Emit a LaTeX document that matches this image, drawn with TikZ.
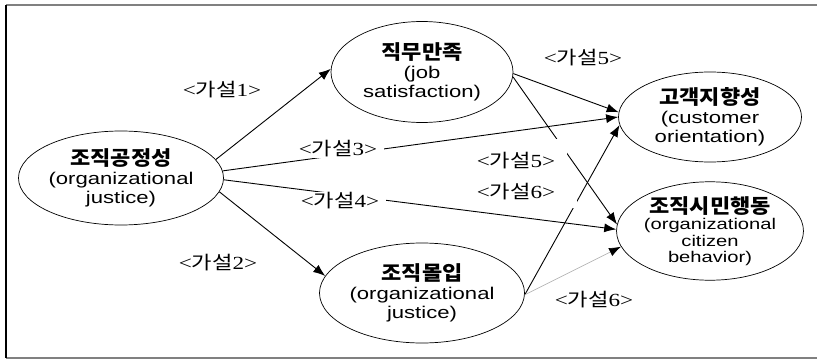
\documentclass[tikz,border=0pt]{standalone}
\usepackage{fontspec}
\usepackage{tikz}
\usetikzlibrary{shapes,calc,arrows,arrows.meta,positioning}
\newfontfamily\krfont[FakeStretch=1.1]{Noto Sans CJK KR}
\newfontfamily\krlab[FakeStretch=1.2]{Noto Sans CJK KR}
\newfontfamily\engfont[FakeStretch=1.3]{Liberation Sans}
\newfontfamily\labfont[FakeStretch=1.25]{Liberation Serif}
\tikzstyle{construct} = [draw, ellipse, fill=white, line width=0.7pt, inner sep=0pt, align=center, font=\engfont\fontsize{17}{19}\selectfont]
\tikzstyle{hyparrow} = [draw, -{Latex[length=12pt,width=9pt]}, line width=0.9pt]
\tikzstyle{hyp} = [fill=white, inner xsep=7pt, inner ysep=1pt, font=\fontsize{18.5}{19}\selectfont]
\newcommand{\cname}[1]{{\krfont\bfseries\fontsize{20}{20}\selectfont #1}}
\newcommand{\gs}[1]{{\labfont<{\krlab 가설}#1>}}

\begin{document}
\begin{tikzpicture}[x=1pt,y=-1pt]
    \useasboundingbox (0,0) rectangle (817,361);
    % frame
    \draw[gray, line width=1.6pt] (6,5) -- (817,5);
    \draw[gray, line width=1.6pt] (6,358) -- (817,358);
    \draw[black, line width=1.4pt] (6,5) -- (6,358);
    % constructs
    \node[construct, minimum width=184pt, minimum height=94pt] (justice) at (121,178) {\cname{조직공정성}\\(organizational\\justice)};
    \node[construct, minimum width=182pt, minimum height=101pt] (jobsat) at (422,72) {\cname{직무만족}\\(job\\satisfaction)};
    \node[construct, minimum width=181pt, minimum height=100pt] (commit) at (422,293) {\cname{조직몰입}\\(organizational\\justice)};
    \node[construct, minimum width=183pt, minimum height=90pt] (custor) at (710,117) {\cname{고객지향성}\\(customer\\orientation)};
    \node[construct, minimum width=183pt, minimum height=97pt, font=\engfont\fontsize{15.5}{16.5}\selectfont] (ocb) at (710,231) {\cname{조직시민행동}\\(organizational\\citizen\\behavior)};
    % hypotheses
    \draw[hyparrow] (justice.11) -- (jobsat.178);
    \draw[hyparrow] (justice.-8) -- (commit.170);
    \draw[hyparrow] (justice.4) -- (custor.180);
    \draw[hyparrow] (justice.-1) -- (ocb.179);
    \draw[hyparrow] (jobsat.-1) -- (custor.177);
    \draw[hyparrow] (jobsat.-3) -- (ocb.176);
    \draw[hyparrow] (commit.-1) -- (custor.185);
    \draw[hyparrow, draw=gray!60, line width=0.7pt, -{Latex[length=12pt,width=9pt,color=black]}] (commit.-1) -- (ocb.190);
    % labels
    \node[hyp] (h1) at (222,90) {\gs{1}};
    \node[hyp] (h2) at (218,263) {\gs{2}};
    \node[hyp] (h3) at (338,149) {\gs{3}};
    \node[hyp] (h4) at (340,201) {\gs{4}};
    \node[hyp] (h5a) at (583,58) {\gs{5}};
    \node[hyp, minimum width=102pt, minimum height=44pt] (h5b) at (516,161) {\gs{5}};
    \node[hyp, minimum width=122pt, minimum height=32pt] (h6a) at (516,192) {\gs{6}};
    \node[hyp] (h6b) at (594,300) {\gs{6}};
\end{tikzpicture}
\end{document}
